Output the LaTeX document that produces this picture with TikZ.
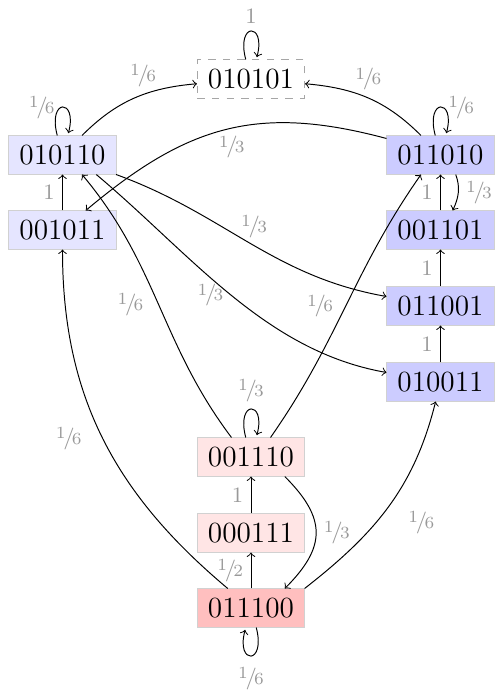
\documentclass[tikz,border=0pt]{standalone}
\newcommand{\fr}[2]{\raisebox{0.6ex}{\scriptsize #1}\kern-0.1em/\kern-0.12em{\scriptsize #2}}
\begin{document}
\begin{tikzpicture}[x=0.41pt,y=-0.41pt,
  st/.style={rectangle, draw=black!18, minimum width=43.9pt, minimum height=15.6pt, inner sep=0pt, font=\large},
  lab/.style={font=\small, text=black!40, inner sep=3pt},
  e/.style={->},
  every loop/.append style={min distance=5.6mm},
  ]
\useasboundingbox (0,0) rectangle (494,690);
\node[st, draw=black!35, dashed, fill=white] (A) at (251,79) {010101};
\node[st, fill=blue!10] (B) at (62.5,155) {010110};
\node[st, fill=blue!10] (C) at (62.5,230) {001011};
\node[st, fill=blue!20] (D) at (440.5,155) {011010};
\node[st, fill=blue!20] (E) at (440.5,230) {001101};
\node[st, fill=blue!20] (F) at (440.5,306) {011001};
\node[st, fill=blue!20] (G) at (440.5,382) {010011};
\node[st, fill=red!10] (H) at (251,457) {001110};
\node[st, fill=red!10] (I) at (251,533) {000111};
\node[st, fill=red!25] (J) at (251,608) {011100};

\draw[e] (B) to[out=45,in=185] node[lab,pos=0.58,above]{\fr16} (A);
\draw[e] (D) to[out=135,in=-5] node[lab,pos=0.5,above]{\fr16} (A);
\draw[e] (B) edge[loop above] node[lab,left]{\fr16} (B);
\draw[e] (A) edge[loop above] node[lab,above]{1} (A);
\draw[e] (D) edge[loop above] node[lab,right]{\fr16} (D);
\draw[e] (D.163) to[out=165,in=40,looseness=1.1] node[lab,pos=0.48,below]{\fr13} (C);
\draw[e] (B) to[out=-20,in=170] node[lab,pos=0.52,above]{\fr13} (F);
\draw[e] (B.-30) to[out=-40,in=170,looseness=0.9] node[lab,pos=0.5,left]{\fr13} (G);
\draw[e] (H.135) to[out=127,in=-50] node[lab,pos=0.5,left=3pt]{\fr16} (B.-45);
\draw[e] (H.45) to[out=55,in=-125] node[lab,pos=0.5,left=2pt]{\fr16} (D.-135);
\draw[e] (H) edge[loop above] node[lab,above]{\fr13} (H);
\draw[e] (H.-30) to[out=-45,in=45,looseness=1.35] node[lab,right]{\fr13} (J.30);
\draw[e] (I) -- node[lab,left]{1} (H);
\draw[e] (J) -- node[lab,left]{\fr12} (I);
\draw[e] (J) edge[loop below] node[lab,below,yshift=-1.5pt]{\fr16} (J);
\draw[e] (J) to[out=140,in=-90] node[lab,pos=0.5,left=5.5pt]{\fr16} (C);
\draw[e] (J.20) to[out=38,in=-104] node[lab,pos=0.5,below right,xshift=5pt,yshift=1.5pt]{\fr16} (G);
\draw[e] (C) -- node[lab,left]{1} (B);
\draw[e] (D.-52) to[out=-70,in=65] node[lab,right]{\fr13} (E.58);
\draw[e] (E) -- node[lab,left]{1} (D);
\draw[e] (F) -- node[lab,left]{1} (E);
\draw[e] (G) -- node[lab,left]{1} (F);
\end{tikzpicture}
\end{document}
